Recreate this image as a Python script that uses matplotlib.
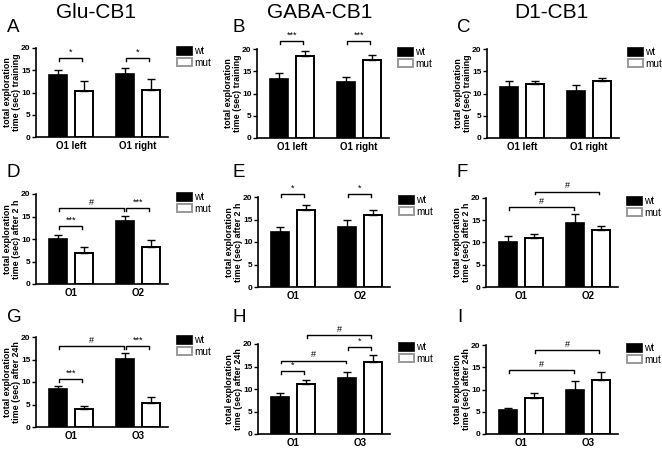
import matplotlib
matplotlib.use('Agg')
import matplotlib.pyplot as plt
import numpy as np

plt.rcParams['font.family'] = ['Liberation Sans', 'DejaVu Sans']

# values (mean, upper SEM)
A_wt, A_wt_err, A_mut, A_mut_err = [13.9, 14.2], [1.2, 1.2], [10.3, 10.6], [2.3, 2.4]
B_wt, B_wt_err, B_mut, B_mut_err = [13.2, 12.5], [1.3, 1.3], [18.5, 17.6], [1.0, 1.1]
C_wt, C_wt_err, C_mut, C_mut_err = [11.4, 10.5], [1.3, 1.5], [12.1, 12.9], [0.7, 0.6]
D_wt, D_wt_err, D_mut, D_mut_err = [10.1, 14.0], [0.9, 1.1], [7.0, 8.3], [1.3, 1.4]
E_wt, E_wt_err, E_mut, E_mut_err = [12.3, 13.3], [1.0, 1.6], [17.1, 16.0], [1.2, 1.2]
F_wt, F_wt_err, F_mut, F_mut_err = [10.2, 14.3], [1.3, 2.2], [10.9, 12.7], [1.0, 0.9]
G_wt, G_wt_err, G_mut, G_mut_err = [8.5, 15.1], [0.7, 1.3], [3.9, 5.4], [0.7, 1.3]
H_wt, H_wt_err, H_mut, H_mut_err = [8.3, 12.4], [0.9, 1.3], [11.2, 16.0], [0.9, 1.5]
I_wt, I_wt_err, I_mut, I_mut_err = [5.3, 9.9], [0.5, 1.9], [8.1, 12.2], [1.1, 1.8]

cats_train = ['O1 left', 'O1 right']
cats_2h = ['O1', 'O2']
cats_24h = ['O1', 'O3']

ylab_train = 'total exploration\ntime (sec) training'
ylab_2h = 'total exploration\ntime (sec) after 2 h'
ylab_24h = 'total exploration\ntime (sec) after 24h'

col_titles = ['Glu-CB1', 'GABA-CB1', 'D1-CB1']

# significance brackets: (bar from, bar to, height, mark); bars 0=wt1 1=mut1 2=wt2 3=mut2
A_sig = [(0, 1, 17.7, '*'), (2, 3, 17.7, '*')]
B_sig = [(0, 1, 21.7, '***'), (2, 3, 21.7, '***')]
C_sig = []
D_sig = [(0, 1, 12.9, '***'), (0, 2, 16.9, '#'), (2, 3, 16.9, '***')]
E_sig = [(0, 1, 20.7, '*'), (2, 3, 20.7, '*')]
F_sig = [(0, 2, 18.0, '#'), (1, 3, 21.4, '#')]
G_sig = [(0, 1, 10.7, '***'), (0, 2, 17.9, '#'), (2, 3, 17.9, '***')]
H_sig = [(0, 1, 13.9, '*'), (0, 2, 16.3, '#'), (2, 3, 19.3, '*'), (1, 3, 22.0, '#')]
I_sig = [(0, 2, 14.3, '#'), (1, 3, 18.9, '#')]

W, H = 662, 449
fig = plt.figure(figsize=(W / 100, H / 100), dpi=100)

# pixel boxes: left, top (y=20), bottom (y=0)
panels = [
    ('A', 36, 48, 137, A_wt, A_wt_err, A_mut, A_mut_err, cats_train, ylab_train, A_sig),
    ('B', 257, 49, 138, B_wt, B_wt_err, B_mut, B_mut_err, cats_train, ylab_train, B_sig),
    ('C', 487, 49, 138, C_wt, C_wt_err, C_mut, C_mut_err, cats_train, ylab_train, C_sig),
    ('D', 36, 194, 284, D_wt, D_wt_err, D_mut, D_mut_err, cats_2h, ylab_2h, D_sig),
    ('E', 258, 197, 287, E_wt, E_wt_err, E_mut, E_mut_err, cats_2h, ylab_2h, E_sig),
    ('F', 486, 198, 287, F_wt, F_wt_err, F_mut, F_mut_err, cats_2h, ylab_2h, F_sig),
    ('G', 36, 337, 427, G_wt, G_wt_err, G_mut, G_mut_err, cats_24h, ylab_24h, G_sig),
    ('H', 258, 344, 434, H_wt, H_wt_err, H_mut, H_mut_err, cats_24h, ylab_24h, H_sig),
    ('I', 486, 345, 434, I_wt, I_wt_err, I_mut, I_mut_err, cats_24h, ylab_24h, I_sig),
]

off, bw = 0.19, 0.27
x = np.arange(2)
for letter, L, T, B, wt, wte, mut, mute, cats, ylab, sigs in panels:
    ax = fig.add_axes([L / W, 1 - B / H, 132 / W, (B - T) / H])
    ax.bar(x - off, wt, bw, color='black', edgecolor='black', linewidth=1.2, label='wt',
           yerr=[[0, 0], wte], error_kw=dict(ecolor='black', elinewidth=1, capsize=3, capthick=1))
    ax.bar(x + off, mut, bw, color='white', edgecolor='black', linewidth=1.4, label='mut',
           yerr=[[0, 0], mute], error_kw=dict(ecolor='black', elinewidth=1, capsize=3, capthick=1))
    ax.set_xlim(-0.52, 1.45)
    ax.set_ylim(0, 20)
    ax.set_yticks([0, 5, 10, 15, 20])
    ax.set_xticks(x)
    ax.set_xticklabels(cats, fontsize=7, fontweight='bold')
    ax.tick_params(axis='x', length=0, pad=3)
    ax.tick_params(axis='y', length=3, width=1, labelsize=6, pad=1)
    for t in ax.get_yticklabels():
        t.set_fontweight('bold')
    ax.spines['top'].set_visible(False)
    ax.spines['right'].set_visible(False)
    ax.spines['left'].set_linewidth(1.2)
    ax.spines['bottom'].set_linewidth(1.2)
    ax.set_ylabel(ylab, fontsize=6.4, fontweight='bold', linespacing=1.0)
    ax.yaxis.set_label_coords(-15 / 132, 0.5)

    pos = [x[0] - off, x[0] + off, x[1] - off, x[1] + off]
    for i0, i1, yy, mark in sigs:
        xa, xb = pos[i0] + 0.02, pos[i1] - 0.02
        ax.plot([xa, xa, xb, xb], [yy - 0.6, yy, yy, yy - 0.6], color='black', lw=1, clip_on=False)
        ax.text((xa + xb) / 2, yy + 0.3, mark, ha='center', va='bottom', fontsize=6.5)

    leg = ax.legend(loc='upper left', bbox_to_anchor=(1.07, 1.02), frameon=False, fontsize=7.2,
                    handlelength=1.5, handleheight=0.9, handletextpad=0.2, labelspacing=0.15,
                    borderpad=0, borderaxespad=0)
    leg.legend_handles[1].set_edgecolor('#999999')

letters = {'A': (7, 27), 'B': (232, 27), 'C': (457, 27),
           'D': (7, 172), 'E': (233, 172), 'F': (456, 172),
           'G': (7, 317), 'H': (233, 317), 'I': (457, 317)}
for k, (px, py) in letters.items():
    fig.text(px / W, 1 - py / H, k, fontsize=13.5, va='center', ha='left')

for cx, t in zip([96, 320, 551], col_titles):
    fig.text(cx / W, 1 - 13 / H, t, fontsize=15, ha='center', va='center')

fig.savefig('out.png', dpi=100)
